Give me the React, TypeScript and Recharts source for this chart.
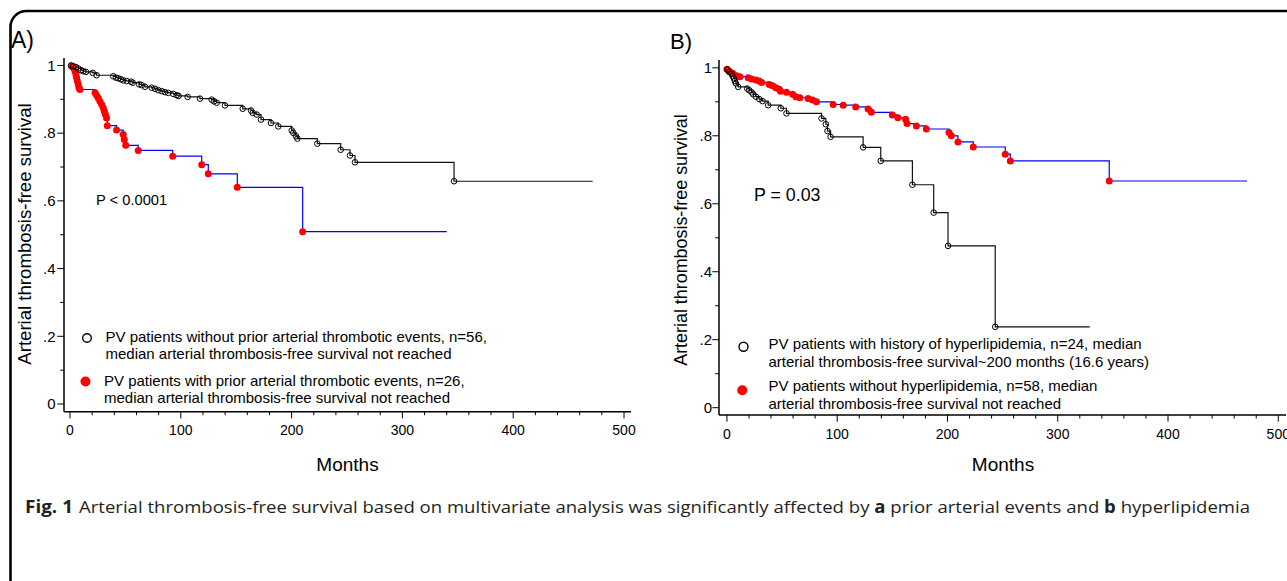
import React from "react";
import { ComposedChart, Line, XAxis, YAxis } from "recharts";

const FONT = '"Liberation Sans", Arial, Helvetica, sans-serif';

// [months, survival, censor-mark (1) or plain step corner (0)]
type Row = [number, number, number];

// Panel A: PV patients without prior arterial thrombotic events (black, hollow circles)
const aWithoutPrior: Row[] = [
  [0, 1, 0], [0.9, 1, 1], [3, 0.998, 1], [5.4, 0.995, 1], [7.5, 0.991, 1], [9.9, 0.986, 1],
  [12, 0.983, 1], [14.4, 0.981, 1], [20.5, 0.978, 1], [24, 0.971, 1], [39.1, 0.968, 1],
  [41.5, 0.964, 1], [43.6, 0.962, 1], [46, 0.959, 1], [48.1, 0.956, 1], [51.2, 0.954, 1],
  [55.1, 0.952, 1], [56.6, 0.949, 1], [62.5, 0.944, 1], [64.7, 0.942, 1], [67.7, 0.937, 1],
  [73.7, 0.934, 1], [76.7, 0.931, 1], [79.7, 0.927, 1], [82.8, 0.924, 1], [85.7, 0.921, 1],
  [88.7, 0.919, 1], [93.2, 0.916, 1], [96.3, 0.912, 1], [98, 0.91, 1], [106.2, 0.907, 1],
  [117.3, 0.902, 1], [127.9, 0.899, 1], [130, 0.894, 1], [132.4, 0.89, 1], [139.9, 0.882, 1],
  [155.9, 0.872, 1], [163.4, 0.867, 1], [164.9, 0.86, 1], [168.5, 0.855, 1], [172.4, 0.84, 1],
  [181.4, 0.83, 1], [188, 0.82, 1], [200.1, 0.808, 1], [201.5, 0.801, 1], [204, 0.791, 1],
  [205.2, 0.784, 1], [223.2, 0.769, 1], [244.3, 0.751, 1], [252.7, 0.734, 1], [257.2, 0.714, 1],
  [346.6, 0.658, 1], [471.7, 0.658, 0],
];

// Panel A: PV patients with prior arterial thrombotic events (blue line, red dots)
const aWithPrior: Row[] = [
  [0, 1, 0], [1.5, 0.998, 1], [3, 0.993, 1], [4.5, 0.983, 1], [5.4, 0.973, 1], [6, 0.964, 1],
  [6.6, 0.954, 1], [7.5, 0.944, 1], [8.1, 0.934, 1], [9, 0.929, 1], [22.6, 0.919, 1],
  [24, 0.912, 1], [25.5, 0.904, 1], [27, 0.894, 1], [28.6, 0.885, 1], [30, 0.875, 1],
  [31, 0.865, 1], [32, 0.855, 1], [33, 0.845, 1], [33.7, 0.822, 1], [42, 0.809, 1],
  [48, 0.796, 1], [49, 0.781, 1], [50.3, 0.764, 1], [61.6, 0.749, 1], [92.7, 0.732, 1],
  [118.9, 0.707, 1], [124.8, 0.68, 1], [151, 0.64, 1], [210, 0.509, 1], [340, 0.509, 0],
];

// Panel B: PV patients with history of hyperlipidemia (black, hollow circles)
const bHyperlipidemia: Row[] = [
  [0, 1, 0], [0.5, 0.995, 1], [2.1, 0.988, 1], [4.3, 0.982, 1], [5.2, 0.976, 1], [6.3, 0.969, 1],
  [7.2, 0.961, 1], [8.2, 0.954, 1], [10.2, 0.944, 1], [18.4, 0.939, 1], [20.2, 0.934, 1],
  [22.4, 0.928, 1], [23.9, 0.922, 1], [26.3, 0.915, 1], [29.3, 0.908, 1], [32.3, 0.902, 1],
  [37.4, 0.89, 1], [48.9, 0.881, 1], [54, 0.866, 1], [85.8, 0.851, 1], [89.7, 0.834, 1],
  [91.2, 0.814, 1], [94, 0.797, 1], [123.5, 0.766, 1], [139.5, 0.726, 1], [168.2, 0.656, 1],
  [187.5, 0.574, 1], [200.5, 0.476, 1], [243.3, 0.238, 1], [329, 0.238, 0],
];

// Panel B: PV patients without hyperlipidemia (blue line, red dots)
const bNoHyperlipidemia: Row[] = [
  [0, 1, 0], [0, 0.996, 1], [2.1, 0.99, 1], [5.2, 0.984, 1], [8.8, 0.977, 1], [11.8, 0.974, 1],
  [19.3, 0.971, 1], [22.4, 0.967, 1], [26.3, 0.964, 1], [29.3, 0.961, 1], [31.4, 0.957, 1],
  [38.3, 0.951, 1], [41.4, 0.947, 1], [44.4, 0.941, 1], [47.4, 0.937, 1], [48.6, 0.931, 1],
  [54, 0.928, 1], [59.5, 0.922, 1], [62.5, 0.915, 1], [66.1, 0.912, 1], [73.6, 0.91, 1],
  [77.6, 0.905, 1], [81.2, 0.9, 1], [96.3, 0.892, 1], [105.4, 0.89, 1], [116.8, 0.885, 1],
  [128, 0.879, 1], [131, 0.869, 1], [150, 0.861, 1], [155, 0.853, 1], [162, 0.849, 1],
  [163.3, 0.836, 1], [171.8, 0.829, 1], [180.8, 0.82, 1], [201.4, 0.81, 1], [203.5, 0.8, 1],
  [209.5, 0.782, 1], [223.4, 0.767, 1], [252.4, 0.746, 1], [257, 0.726, 1], [346.7, 0.667, 1],
  [471.6, 0.667, 0],
];

const xTicks = [0, 20, 40, 60, 80, 100, 120, 140, 160, 180, 200, 220, 240, 260, 280, 300, 320, 340, 360, 380, 400, 420, 440, 460, 480, 500];
const xMajor = [0, 100, 200, 300, 400, 500];
const xTickLabels = ["0", "100", "200", "300", "400", "500"];
const yTicks = [0, 0.1, 0.2, 0.3, 0.4, 0.5, 0.6, 0.7, 0.8, 0.9, 1];
const yMajor = [0, 0.2, 0.4, 0.6, 0.8, 1];
const yTickLabels = ["0", ".2", ".4", ".6", ".8", "1"];

const legendA = [
  ["PV patients without prior arterial thrombotic events, n=56,", "median arterial thrombosis-free survival not reached"],
  ["PV patients with prior arterial thrombotic events, n=26,", "median arterial thrombosis-free survival not reached"],
];
const legendB = [
  ["PV patients with history of hyperlipidemia, n=24, median", "arterial thrombosis-free survival~200 months (16.6 years)"],
  ["PV patients without hyperlipidemia, n=58, median", "arterial thrombosis-free survival not reached"],
];
const pValueA = "P < 0.0001";
const pValueB = "P = 0.03";
const yTitle = "Arterial thrombosis-free survival";
const xTitle = "Months";
const captionBold = "Fig. 1";
const captionText =
  "Arterial thrombosis-free survival based on multivariate analysis was significantly affected by ";

const toPts = (rows: Row[]) => rows.map(([t, s, m]) => ({ t, s, m }));

const makeXTick = (labelDy: number) => (props: any) => {
  const { x, y, payload } = props;
  const idx = xMajor.indexOf(payload.value);
  const major = idx >= 0;
  return (
    <g>
      <line x1={x} x2={x} y1={y} y2={y + (major ? 6.7 : 3.5)} stroke="#000" strokeWidth={1} />
      {major && (
        <text x={x} y={y + labelDy} textAnchor="middle" fontSize={14} fontFamily={FONT} fill="#000">
          {xTickLabels[idx]}
        </text>
      )}
    </g>
  );
};

const makeYTick = (gap: number) => (props: any) => {
  const { x, y, payload } = props;
  const idx = yMajor.findIndex((v) => Math.abs(v - payload.value) < 1e-6);
  const major = idx >= 0;
  return (
    <g>
      <line x1={x - (major ? 6.7 : 3.8)} x2={x} y1={y} y2={y} stroke="#000" strokeWidth={1} />
      {major && (
        <text x={x - gap} y={y + 5.3} textAnchor="end" fontSize={15} fontFamily={FONT} fill="#000">
          {yTickLabels[idx]}
        </text>
      )}
    </g>
  );
};

const hollowDot = (props: any) => {
  const { cx, cy, payload, index } = props;
  if (!payload || !payload.m) return <g key={`h${index}`} />;
  return <circle key={`h${index}`} cx={cx} cy={cy} r={2.8} fill="none" stroke="#000" strokeWidth={1} />;
};

const redDot = (props: any) => {
  const { cx, cy, payload, index } = props;
  if (!payload || !payload.m) return <g key={`r${index}`} />;
  return <circle key={`r${index}`} cx={cx} cy={cy} r={3.5} fill="#ff0000" stroke="none" />;
};

const Panel = (p: {
  left: number; width: number; height: number; margin: any; yWidth: number;
  xDomain: [number, number]; yDomain: [number, number]; blue: Row[]; black: Row[];
  yGap: number; labelDy: number;
}) => (
  <div style={{ position: "absolute", left: p.left, top: 0 }}>
    <ComposedChart width={p.width} height={p.height} margin={p.margin}>
      <XAxis
        type="number" dataKey="t" domain={p.xDomain} allowDataOverflow ticks={xTicks} interval={0}
        tickSize={0} tickMargin={0} tickLine={false} height={40}
        axisLine={{ stroke: "#000", strokeWidth: 1.5 }} tick={makeXTick(p.labelDy)}
      />
      <YAxis
        type="number" dataKey="s" domain={p.yDomain} allowDataOverflow ticks={yTicks} interval={0}
        tickSize={0} tickMargin={0} tickLine={false} width={p.yWidth}
        axisLine={{ stroke: "#000", strokeWidth: 1.5 }} tick={makeYTick(p.yGap)}
      />
      <Line data={toPts(p.blue)} dataKey="s" type="stepAfter" stroke="#0000ff" strokeWidth={1.2}
        dot={redDot} activeDot={false} isAnimationActive={false} />
      <Line data={toPts(p.black)} dataKey="s" type="stepAfter" stroke="#111" strokeWidth={1.2}
        dot={hollowDot} activeDot={false} isAnimationActive={false} />
    </ComposedChart>
  </div>
);

export default function App() {
  return (
    <div style={{ position: "absolute", left: 0, top: 0, width: 1287, height: 581, overflow: "hidden", background: "#fff" }}>
      <Panel
        left={0} width={660} height={480}
        margin={{ top: 58, right: 29, bottom: 28.3, left: 0 }} yWidth={64}
        xDomain={[-5.4, 506.3]} yDomain={[-0.0227, 1.022]}
        blue={aWithPrior} black={aWithoutPrior} yGap={8.5} labelDy={23.3}
      />
      <Panel
        left={660} width={627} height={480}
        margin={{ top: 60, right: 1, bottom: 25, left: 0 }} yWidth={59}
        xDomain={[-7.2, 507]} yDomain={[-0.0215, 1.023]}
        blue={bNoHyperlipidemia} black={bHyperlipidemia} yGap={7} labelDy={23.8}
      />
      <svg width={1287} height={581} style={{ position: "absolute", left: 0, top: 0, pointerEvents: "none" }}>
        <path d="M 10.5 600 L 10.5 27 A 16 16 0 0 1 26.5 11 L 1300 11" fill="none" stroke="#000" strokeWidth={2.6} />
        <g fontFamily={FONT} fill="#000">
          <text x={11} y={48} fontSize={23}>A)</text>
          <text x={670} y={48.5} fontSize={22}>B)</text>
          <text transform="translate(31,234) rotate(-90)" textAnchor="middle" fontSize={18.6}>{yTitle}</text>
          <text transform="translate(687,240) rotate(-90)" textAnchor="middle" fontSize={17.9}>{yTitle}</text>
          <text x={347.5} y={471} textAnchor="middle" fontSize={19}>{xTitle}</text>
          <text x={1003} y={471} textAnchor="middle" fontSize={19}>{xTitle}</text>
          <text x={96} y={205} fontSize={14.7}>{pValueA}</text>
          <text x={754} y={201} fontSize={17.8}>{pValueB}</text>

          <circle cx={87} cy={338} r={4.3} fill="none" stroke="#000" strokeWidth={1.4} />
          <text x={105.5} y={342} fontSize={15}>{legendA[0][0]}</text>
          <text x={105.5} y={359} fontSize={15}>{legendA[0][1]}</text>
          <circle cx={85.5} cy={381.5} r={5} fill="#ff0000" />
          <text x={104} y={386} fontSize={15}>{legendA[1][0]}</text>
          <text x={104} y={403} fontSize={15}>{legendA[1][1]}</text>

          <circle cx={743.5} cy={346.7} r={4.5} fill="none" stroke="#000" strokeWidth={1.4} />
          <text x={768.5} y={349} fontSize={15}>{legendB[0][0]}</text>
          <text x={768.5} y={366.5} fontSize={15}>{legendB[0][1]}</text>
          <circle cx={742.3} cy={390.3} r={5} fill="#ff0000" />
          <text x={768.5} y={391} fontSize={15}>{legendB[1][0]}</text>
          <text x={768.5} y={408.5} fontSize={15}>{legendB[1][1]}</text>
        </g>
        <g fontFamily='"Open Sans", sans-serif' fill="#231f20" fontSize={17}>
          <text x={25} y={513} fontWeight="bold" textLength={48} lengthAdjust="spacingAndGlyphs">{captionBold}</text>
          <text x={79} y={513} textLength={1171} lengthAdjust="spacingAndGlyphs">
            {captionText}
            <tspan fontWeight="bold">a</tspan>
            {" prior arterial events and "}
            <tspan fontWeight="bold">b</tspan>
            {" hyperlipidemia"}
          </text>
        </g>
      </svg>
    </div>
  );
}
